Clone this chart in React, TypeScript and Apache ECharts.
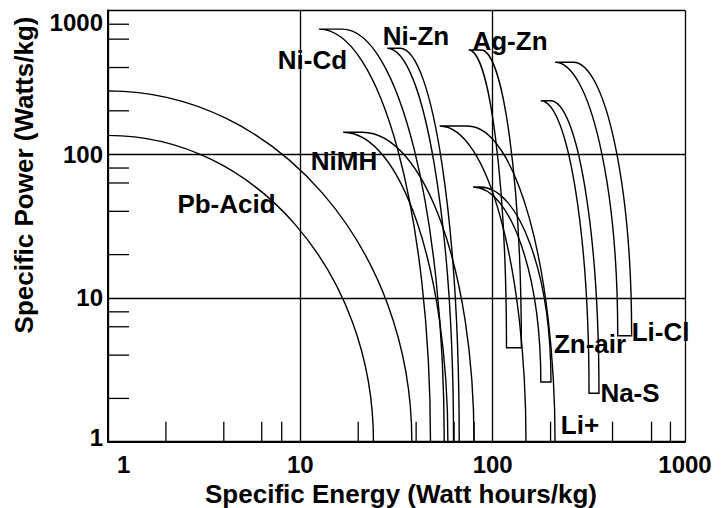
import React, { useEffect, useRef } from "react";
import * as echarts from "echarts";

// Battery regions on the Ragone plot (Specific Energy Wh/kg vs Specific Power W/kg)
const batteries = ["Pb-Acid", "Ni-Cd", "NiMH", "Ni-Zn", "Ag-Zn", "Li+", "Zn-air", "Na-S", "Li-Cl"];
const innerStartEnergy = [1, 12.5, 16.7, 28.3, 75, 53, 79, 178, 211];
const outerStartEnergy = [1, 16.5, 21, 33, 87, 74, 86, 200, 262];
const innerPeakPower = [135, 740, 142, 545, 530, 157, 59, 235, 435];
const outerPeakPower = [275, 740, 142, 545, 530, 157, 59, 235, 435];
const innerEndEnergy = [24, 47.5, 58.5, 62.6, 118, 149, 178, 317, 447];
const outerEndEnergy = [38, 56, 80, 67, 141, 211, 201, 357, 528];
const endPower = [1, 1, 1, 1, 4.5, 1, 2.6, 2.17, 5.46];

// minor tick values (drawn inside the frame)
const xMinorTicks = [2, 4, 6.3, 8, 20, 40, 63, 80, 200, 420, 670, 840];
const yMinorTicks = [2, 4, 6.3, 8, 20, 40, 63, 80, 200, 400, 630, 800];

const xAxisTitle = "Specific Energy (Watt hours/kg)";
const yAxisTitle = "Specific Power (Watts/kg)";

const FONT = "'Liberation Sans', Arial, Helvetica, sans-serif";
const K = 0.5523;

export default function App() {
  const ref = useRef<HTMLDivElement>(null);
  useEffect(() => {
    if (!ref.current) return;
    const chart = echarts.init(ref.current, undefined, { renderer: "svg" });

    const regionData = batteries.map((name, i) => ({
      name,
      value: [
        innerStartEnergy[i],
        outerStartEnergy[i],
        innerPeakPower[i],
        outerPeakPower[i],
        innerEndEnergy[i],
        outerEndEnergy[i],
        endPower[i],
      ],
    }));

    const labelPos: Record<string, [number, number]> = {
      "Pb-Acid": [226.5, 204],
      "Ni-Cd": [312.5, 60],
      NiMH: [344, 161],
      "Ni-Zn": [416, 35.5],
      "Ag-Zn": [510, 41],
      "Li+": [580, 425],
      "Zn-air": [590, 344],
      "Na-S": [630, 392.5],
      "Li-Cl": [660.5, 331.5],
    };

    const tickLabel = {
      color: "#000",
      fontSize: 24,
      fontWeight: "bold",
      fontFamily: FONT,
    };

    const option: any = {
      animation: false,
      grid: { left: 108, right: 40, top: 10.3, bottom: 66.3, containLabel: false },
      xAxis: {
        type: "log",
        logBase: 10,
        min: 1,
        max: 1000,
        axisLine: { show: true, lineStyle: { color: "#000", width: 2 } },
        axisTick: { show: false },
        splitLine: { show: true, lineStyle: { color: "#000", width: 1.3 } },
        axisLabel: {
          ...tickLabel,
          margin: 11,
          alignMinLabel: "left",
          formatter: (v: number) => (v === 1 ? "{m|1}" : String(Math.round(v))),
          rich: { m: { ...tickLabel, padding: [0, 0, 0, 9] } },
        },
      },
      yAxis: {
        type: "log",
        logBase: 10,
        min: 1,
        max: 1000,
        axisLine: { show: true, lineStyle: { color: "#000", width: 2 } },
        axisTick: { show: false },
        splitLine: { show: true, lineStyle: { color: "#000", width: 1.3 } },
        axisLabel: {
          ...tickLabel,
          margin: 5,
          verticalAlignMaxLabel: "top",
          formatter: (v: number) => (v === 1 ? "{m|1}" : String(Math.round(v))),
          rich: { m: { ...tickLabel, padding: [0, 0, 8, 0] } },
        },
      },
      series: [
        {
          type: "custom",
          name: "regions",
          coordinateSystem: "cartesian2d",
          encode: { x: [0, 1, 4, 5], y: [2, 3, 6] },
          data: regionData,
          silent: true,
          renderItem: (params: any, api: any) => {
            const a0 = api.coord([api.value(0), api.value(2)]);
            const b0 = api.coord([api.value(1), api.value(3)]);
            const a1 = api.coord([api.value(4), api.value(6)]);
            const b1 = api.coord([api.value(5), api.value(6)]);
            const f = (n: number) => n.toFixed(2);
            const outer =
              `C ${f(b0[0] + K * (b1[0] - b0[0]))} ${f(b0[1])} ` +
              `${f(b1[0])} ${f(b1[1] - K * (b1[1] - b0[1]))} ${f(b1[0])} ${f(b1[1])}`;
            const inner =
              `C ${f(a1[0])} ${f(a1[1] - K * (a1[1] - a0[1]))} ` +
              `${f(a0[0] + K * (a1[0] - a0[0]))} ${f(a0[1])} ${f(a0[0])} ${f(a0[1])}`;
            const d =
              `M ${f(a0[0])} ${f(a0[1])} L ${f(b0[0])} ${f(b0[1])} ${outer} ` +
              `L ${f(a1[0])} ${f(a1[1])} ${inner} Z`;
            return {
              type: "path",
              shape: { pathData: d },
              style: { fill: "none", stroke: "#000", lineWidth: 1.4 },
            };
          },
          z: 3,
        },
        {
          type: "custom",
          name: "xticks",
          coordinateSystem: "cartesian2d",
          data: xMinorTicks.map((v) => [v, 1]),
          silent: true,
          renderItem: (params: any, api: any) => {
            const p = api.coord([api.value(0), api.value(1)]);
            return {
              type: "line",
              shape: { x1: p[0], y1: p[1], x2: p[0], y2: p[1] - 20 },
              style: { stroke: "#000", lineWidth: 1.3 },
            };
          },
          z: 2,
        },
        {
          type: "custom",
          name: "yticks",
          coordinateSystem: "cartesian2d",
          data: yMinorTicks.map((v) => [1, v]),
          silent: true,
          renderItem: (params: any, api: any) => {
            const p = api.coord([api.value(0), api.value(1)]);
            return {
              type: "line",
              shape: { x1: p[0], y1: p[1], x2: p[0] + 21, y2: p[1] },
              style: { stroke: "#000", lineWidth: 1.3 },
            };
          },
          z: 2,
        },
      ],
      graphic: [
        ...batteries.map((name) => ({
          type: "text",
          x: labelPos[name][0],
          y: labelPos[name][1],
          z: 10,
          style: {
            text: name,
            fill: "#000",
            font: `bold 26px ${FONT}`,
            textAlign: "center",
            textVerticalAlign: "middle",
          },
        })),
        {
          type: "text",
          x: 401,
          y: 494,
          style: {
            text: xAxisTitle,
            fill: "#000",
            font: `bold 26px ${FONT}`,
            textAlign: "center",
            textVerticalAlign: "middle",
          },
        },
        {
          type: "text",
          x: 24,
          y: 175,
          rotation: Math.PI / 2,
          style: {
            text: yAxisTitle,
            fill: "#000",
            font: `bold 26px ${FONT}`,
            textAlign: "center",
            textVerticalAlign: "middle",
          },
        },
      ],
    };
    chart.setOption(option);
    return () => chart.dispose();
  }, []);
  return (
    <div
      ref={ref}
      style={{ position: "fixed", left: 0, top: 0, width: 725, height: 508, background: "#fff" }}
    />
  );
}
